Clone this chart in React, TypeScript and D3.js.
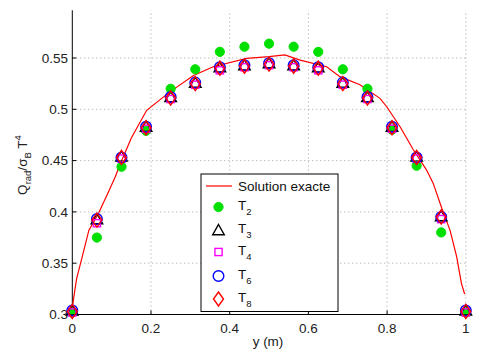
import React from "react";
import * as d3 from "d3";

const yPos = [0, 0.0625, 0.125, 0.1875, 0.25, 0.3125, 0.375, 0.4375, 0.5, 0.5625, 0.625, 0.6875, 0.75, 0.8125, 0.875, 0.9375, 1];
const T2 = [0.302, 0.375, 0.444, 0.479, 0.52, 0.539, 0.556, 0.561, 0.564, 0.561, 0.556, 0.539, 0.52, 0.48, 0.445, 0.38, 0.302];
const T3 = [0.304, 0.393, 0.454, 0.483, 0.512, 0.526, 0.541, 0.543, 0.545, 0.543, 0.541, 0.526, 0.512, 0.483, 0.454, 0.396, 0.304];
const T4 = [0.302, 0.389, 0.452, 0.481, 0.51, 0.524, 0.538, 0.541, 0.543, 0.541, 0.538, 0.524, 0.51, 0.481, 0.452, 0.393, 0.302];
const T6 = [0.304, 0.393, 0.453, 0.483, 0.512, 0.526, 0.541, 0.543, 0.545, 0.543, 0.541, 0.526, 0.512, 0.483, 0.453, 0.395, 0.304];
const T8 = [0.303, 0.392, 0.453, 0.482, 0.511, 0.525, 0.54, 0.542, 0.544, 0.542, 0.54, 0.525, 0.511, 0.482, 0.453, 0.395, 0.303];

const exactX = [0, 0.003, 0.011, 0.025, 0.042, 0.067, 0.09, 0.109, 0.122, 0.15, 0.189, 0.248, 0.308, 0.358, 0.443, 0.5, 0.54, 0.579, 0.6465, 0.68, 0.731, 0.782, 0.799, 0.833, 0.867, 0.9, 0.917, 0.939, 0.96, 0.977, 0.989, 0.997];
const exactY = [0.305, 0.315, 0.335, 0.356, 0.382, 0.399, 0.418, 0.434, 0.447, 0.472, 0.499, 0.517, 0.533, 0.5415, 0.5497, 0.5513, 0.553, 0.548, 0.5415, 0.5318, 0.524, 0.5107, 0.5025, 0.483, 0.4603, 0.441, 0.428, 0.4035, 0.382, 0.356, 0.33, 0.32];

const xTicks = [0, 0.2, 0.4, 0.6, 0.8, 1];
const xTickLabels = ["0", "0.2", "0.4", "0.6", "0.8", "1"];
const yTicks = [0.3, 0.35, 0.4, 0.45, 0.5, 0.55];
const yTickLabels = ["0.3", "0.35", "0.4", "0.45", "0.5", "0.55"];
const legendNames = ["2", "3", "4", "6", "8"];

const FONT = "'Liberation Sans', Arial, Helvetica, sans-serif";

function Marker({ kind, cx, cy }: { kind: string; cx: number; cy: number }) {
  if (kind === "2") return <circle cx={cx} cy={cy} r={4.6} fill="#00e000" stroke="#00e000" />;
  if (kind === "3") {
    const h = 5.5;
    return (
      <path
        d={`M${cx},${cy - h} L${cx + h * 1.05},${cy + h * 0.85} L${cx - h * 1.05},${cy + h * 0.85} Z`}
        fill="none"
        stroke="#000"
        strokeWidth={1.4}
      />
    );
  }
  if (kind === "4") return <rect x={cx - 3.6} y={cy - 3.6} width={7.2} height={7.2} fill="none" stroke="#ff00ff" strokeWidth={1.4} />;
  if (kind === "6") return <circle cx={cx} cy={cy} r={5.3} fill="none" stroke="#0000ff" strokeWidth={1.4} />;
  return (
    <path
      d={`M${cx},${cy - 7} L${cx + 5},${cy} L${cx},${cy + 7} L${cx - 5},${cy} Z`}
      fill="none"
      stroke="#ff0000"
      strokeWidth={1.4}
    />
  );
}

export default function App() {
  const W = 481;
  const H = 356;
  const x = d3.scaleLinear().domain([0, 1]).range([72.3, 465.8]);
  const y = d3.scaleLinear().domain([0.3, 0.55]).range([314.5, 58.0]);
  const yTop = y(0.5965);

  const line = d3
    .line<number>()
    .x((_, i) => x(exactX[i]))
    .y((d) => y(d));

  const series: [string, number[]][] = [
    ["2", T2],
    ["3", T3],
    ["4", T4],
    ["6", T6],
    ["8", T8],
  ];

  const lgX = 201;
  const lgY = 174;
  const lgW = 137;
  const lgH = 137.5;
  const rowY = [186, 207, 230, 252, 276, 299];

  return (
    <svg width={W} height={H} style={{ position: "absolute", left: 0, top: 0, background: "#fff" }} fontFamily={FONT}>
      <rect x={0} y={0} width={W} height={H} fill="#fff" />
      {/* grid */}
      {xTicks.slice(1).map((t) => (
        <line key={"gx" + t} x1={x(t)} x2={x(t)} y1={y(0.3)} y2={yTop} stroke="#a0a0a0" strokeWidth={1} strokeDasharray="1,3" />
      ))}
      {yTicks.slice(1).map((t) => (
        <line key={"gy" + t} x1={x(0)} x2={x(1)} y1={y(t)} y2={y(t)} stroke="#a0a0a0" strokeWidth={1} strokeDasharray="1,3" />
      ))}
      {/* axes */}
      <line x1={x(0)} x2={x(0)} y1={yTop} y2={y(0.3)} stroke="#000" strokeWidth={1} />
      <line x1={x(0)} x2={x(1)} y1={y(0.3)} y2={y(0.3)} stroke="#000" strokeWidth={1} />
      {xTicks.map((t) => (
        <line key={"tx" + t} x1={x(t)} x2={x(t)} y1={y(0.3)} y2={y(0.3) - 4} stroke="#000" />
      ))}
      {yTicks.map((t) => (
        <line key={"ty" + t} x1={x(0)} x2={x(0) + 4} y1={y(t)} y2={y(t)} stroke="#000" />
      ))}
      {xTicks.map((t, i) => (
        <text key={"lx" + t} x={x(t)} y={333} fontSize={13.5} textAnchor="middle" fill="#222">
          {xTickLabels[i]}
        </text>
      ))}
      {yTicks.map((t, i) => (
        <text key={"ly" + t} x={68} y={y(t) + 4.8} fontSize={13.5} textAnchor="end" fill="#222">
          {yTickLabels[i]}
        </text>
      ))}
      <text x={268} y={346} fontSize={13.5} textAnchor="middle" fill="#222">
        y (m)
      </text>
      <text transform="translate(27,165) rotate(-90)" fontSize={13.5} textAnchor="middle" fill="#222">
        Q<tspan fontSize={9.5} dy={4}>rad</tspan>
        <tspan dy={-4}>/σ</tspan>
        <tspan fontSize={9.5} dy={4}>B</tspan>
        <tspan dy={-4}> T</tspan>
        <tspan fontSize={9.5} dy={-6}>4</tspan>
      </text>
      {/* exact solution */}
      <path d={line(exactY) || ""} fill="none" stroke="#ff0000" strokeWidth={1.2} />
      {/* markers */}
      {series.map(([k, vals]) =>
        vals.map((v, i) => <Marker key={k + "-" + i} kind={k} cx={x(yPos[i])} cy={y(v)} />)
      )}
      {/* legend */}
      <rect x={lgX} y={lgY} width={lgW} height={lgH} fill="#fff" stroke="#000" strokeWidth={1} />
      <line x1={206} x2={232} y1={rowY[0]} y2={rowY[0]} stroke="#ff0000" strokeWidth={1.2} />
      <text x={238} y={rowY[0] + 5} fontSize={13.5} fill="#111">
        Solution exacte
      </text>
      {legendNames.map((n, i) => (
        <g key={"lg" + n}>
          <Marker kind={n} cx={218.5} cy={rowY[i + 1]} />
          <text x={238} y={rowY[i + 1] + 3} fontSize={13.5} fill="#111">
            T<tspan fontSize={9.5} dy={5}>{n}</tspan>
          </text>
        </g>
      ))}
    </svg>
  );
}
